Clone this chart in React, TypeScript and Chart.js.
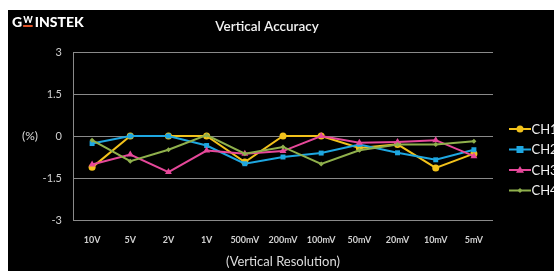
import React, { useEffect, useRef } from "react";
import { Chart, registerables } from "chart.js";

Chart.register(...registerables);

const categories = ["10V", "5V", "2V", "1V", "500mV", "200mV", "100mV", "50mV", "20mV", "10mV", "5mV"];
const ch1 = [-1.12, 0, 0, 0, -0.93, 0, 0, -0.43, -0.3, -1.14, -0.63];
const ch2 = [-0.27, 0, 0, -0.34, -0.99, -0.75, -0.61, -0.3, -0.6, -0.85, -0.49];
const ch3 = [-1.02, -0.66, -1.29, -0.52, -0.63, -0.54, 0, -0.24, -0.21, -0.15, -0.72];
const ch4 = [-0.15, -0.9, -0.49, 0.03, -0.63, -0.39, -1.0, -0.51, -0.3, -0.3, -0.19];
const seriesNames = ["CH1", "CH2", "CH3", "CH4"];
const yTicks = [-3, -1.5, 0, 1.5, 3];
const chartTitle = "Vertical Accuracy";
const xTitle = "(Vertical Resolution)";
const yTitle = "(%)";

const colors = ["#f2c21b", "#1ea7e1", "#e6489a", "#8fb04c"];
const pointStyles = ["circle", "rect", "triangle", "rectRot"];
const pointRadii = [3.5, 3.5, 4, 2.5];

function drawMarker(ctx: CanvasRenderingContext2D, style: string, x: number, y: number, r: number, color: string) {
  ctx.fillStyle = color;
  ctx.beginPath();
  if (style === "circle") {
    ctx.arc(x, y, r, 0, Math.PI * 2);
  } else if (style === "rect") {
    ctx.rect(x - r, y - r, 2 * r, 2 * r);
  } else if (style === "triangle") {
    ctx.moveTo(x, y - r);
    ctx.lineTo(x + r, y + r * 0.7);
    ctx.lineTo(x - r, y + r * 0.7);
    ctx.closePath();
  } else {
    ctx.moveTo(x, y - r);
    ctx.lineTo(x + r, y);
    ctx.lineTo(x, y + r);
    ctx.lineTo(x - r, y);
    ctx.closePath();
  }
  ctx.fill();
}

const decor = {
  id: "decor",
  afterDraw(chart: any) {
    const ctx: CanvasRenderingContext2D = chart.ctx;
    ctx.save();
    // Title
    ctx.fillStyle = "#f2f2f2";
    ctx.font = "600 13.5px Lato";
    ctx.textAlign = "center";
    ctx.textBaseline = "middle";
    ctx.fillText(chartTitle, 259, 17);
    // Y axis title (horizontal)
    ctx.font = "12px Lato";
    ctx.fillStyle = "#dddddd";
    ctx.fillText(yTitle, 22, chart.scales.y.getPixelForValue(0));
    // Logo
    ctx.textAlign = "left";
    ctx.textBaseline = "alphabetic";
    ctx.fillStyle = "#ffffff";
    ctx.font = "900 14px Lato";
    let x = 4;
    ctx.fillText("G", x, 17);
    x += ctx.measureText("G").width + 1;
    ctx.font = "900 9px Lato";
    const wW = ctx.measureText("W").width;
    ctx.fillText("W", x, 13);
    ctx.fillStyle = "#e0552a";
    ctx.fillRect(x, 15, wW, 2);
    x += wW + 2;
    ctx.fillStyle = "#ffffff";
    ctx.font = "900 14px Lato";
    ctx.fillText("INSTEK", x, 17);
    // Legend
    const ys = [119, 139.5, 160, 180.5];
    seriesNames.forEach((name: string, i: number) => {
      const y = ys[i];
      ctx.strokeStyle = colors[i];
      ctx.lineWidth = 2;
      ctx.beginPath();
      ctx.moveTo(501, y);
      ctx.lineTo(523, y);
      ctx.stroke();
      drawMarker(ctx, pointStyles[i], 512, y, pointRadii[i], colors[i]);
      ctx.fillStyle = "#f2f2f2";
      ctx.font = "13px Lato";
      ctx.textBaseline = "middle";
      ctx.fillText(name, 523.5, y + 0.5);
    });
    ctx.restore();
  },
};

export default function App() {
  const ref = useRef<HTMLCanvasElement | null>(null);
  useEffect(() => {
    if (!ref.current) return;
    const seriesData = [ch1, ch2, ch3, ch4];
    const chart = new Chart(ref.current, {
      type: "line",
      data: {
        labels: categories,
        datasets: seriesData.map((d, i) => ({
          label: seriesNames[i],
          data: d,
          order: seriesData.length - i,
          borderColor: colors[i],
          backgroundColor: colors[i],
          borderWidth: 2,
          pointStyle: pointStyles[i] as any,
          pointRadius: pointRadii[i],
          pointBorderWidth: 0,
          tension: 0,
        })),
      },
      options: {
        responsive: false,
        animation: false,
        devicePixelRatio: 1,
        layout: { padding: { left: 0, top: 42, right: 61, bottom: 0 } },
        plugins: {
          legend: { display: false },
          title: { display: false },
          tooltip: { enabled: false },
        },
        scales: {
          x: {
            offset: true,
            grid: { display: false, drawTicks: false },
            border: { display: false },
            ticks: {
              color: "#d0d0d0",
              font: { family: "Lato", size: 9, weight: "bold" },
              padding: 15,
              maxRotation: 0,
              autoSkip: false,
            },
            title: {
              display: true,
              text: xTitle,
              color: "#dddddd",
              font: { family: "Lato", size: 13 },
              padding: { top: 0, bottom: 1 },
            },
            afterFit: (s: any) => {
              s.height = 51;
            },
          },
          y: {
            min: -3,
            max: 3,
            grid: { color: "#8a8a8a", lineWidth: 1, drawTicks: false },
            border: { display: true, color: "#8a8a8a", width: 1 },
            afterBuildTicks: (s: any) => {
              s.ticks = yTicks.map((v) => ({ value: v }));
            },
            ticks: {
              color: "#d0d0d0",
              font: { family: "Lato", size: 11 },
              padding: 11,
            },
            afterFit: (s: any) => {
              s.width = 65;
            },
          },
        },
      },
      plugins: [decor],
    });
    return () => chart.destroy();
  }, []);
  return (
    <div
      style={{
        position: "fixed",
        left: 8,
        top: 10,
        width: 546,
        height: 261,
        background: "#000",
      }}
    >
      <canvas ref={ref} width={546} height={261} style={{ display: "block" }} />
    </div>
  );
}
